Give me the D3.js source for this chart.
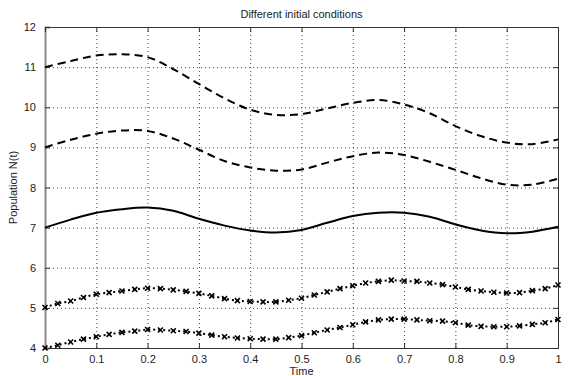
<!DOCTYPE html>
<html>
<head>
<meta charset="utf-8">
<script src="https://cdn.jsdelivr.net/npm/d3@7"></script>
<style>
body { margin: 0; background: #fff; }
text { font-family: "Liberation Sans", Arial, sans-serif; }
</style>
</head>
<body>
<div id="chart"></div>
<script>
// data
var tCoarse = d3.range(0, 21).map(function(i) { return i / 20; });
var tFine = d3.range(0, 41).map(function(i) { return i / 40; });

var n11 = [11.0, 11.15, 11.29, 11.32, 11.25, 10.95, 10.58, 10.22, 9.94, 9.81, 9.83,
           9.97, 10.11, 10.18, 10.07, 9.85, 9.53, 9.28, 9.12, 9.08, 9.2];
var n9 = [9.0, 9.19, 9.34, 9.42, 9.41, 9.22, 8.94, 8.66, 8.50, 8.42, 8.45,
          8.62, 8.78, 8.87, 8.81, 8.64, 8.44, 8.23, 8.07, 8.07, 8.22];
var n7 = [7.0, 7.2, 7.37, 7.46, 7.5, 7.42, 7.22, 7.05, 6.93, 6.88, 6.94,
          7.12, 7.29, 7.37, 7.37, 7.27, 7.08, 6.93, 6.86, 6.9, 7.02];
var n5 = [5.01, 5.11, 5.17, 5.26, 5.34, 5.38, 5.42, 5.46, 5.49, 5.48, 5.45, 5.41, 5.36,
          5.30, 5.23, 5.18, 5.16, 5.15, 5.15, 5.19, 5.24, 5.32, 5.40, 5.48, 5.55, 5.62,
          5.66, 5.69, 5.67, 5.66, 5.62, 5.58, 5.52, 5.46, 5.42, 5.39, 5.37, 5.38, 5.43,
          5.48, 5.57];
var n4 = [4.00, 4.07, 4.15, 4.22, 4.28, 4.34, 4.39, 4.42, 4.46, 4.45, 4.43, 4.41, 4.37,
          4.32, 4.28, 4.25, 4.23, 4.22, 4.22, 4.26, 4.31, 4.38, 4.45, 4.51, 4.58, 4.65,
          4.70, 4.72, 4.72, 4.70, 4.68, 4.67, 4.63, 4.57, 4.54, 4.53, 4.53, 4.55, 4.59,
          4.63, 4.71];

var xTicks = [0, 0.1, 0.2, 0.3, 0.4, 0.5, 0.6, 0.7, 0.8, 0.9, 1];
var yTicks = [4, 5, 6, 7, 8, 9, 10, 11, 12];

var margin = {top: 27, right: 13, bottom: 28, left: 45},
    width = 571 - margin.left - margin.right,
    height = 376 - margin.top - margin.bottom;

var svg = d3.select("#chart").append("svg")
    .attr("width", 571)
    .attr("height", 376);

var g = svg.append("g")
    .attr("transform", "translate(" + margin.left + "," + margin.top + ")");

var x = d3.scaleLinear().domain([0, 1]).range([0, width]);
var y = d3.scaleLinear().domain([4, 12]).range([height, 0]);

// grid
g.append("g").selectAll("line").data(xTicks.slice(1, -1)).enter().append("line")
    .attr("x1", function(d) { return x(d) + 0.5; })
    .attr("x2", function(d) { return x(d) + 0.5; })
    .attr("y1", 0).attr("y2", height)
    .attr("stroke", "#444").attr("stroke-dasharray", "1,3");
g.append("g").selectAll("line").data(yTicks.slice(1, -1)).enter().append("line")
    .attr("y1", function(d) { return y(d) + 0.5; })
    .attr("y2", function(d) { return y(d) + 0.5; })
    .attr("x1", 0).attr("x2", width)
    .attr("stroke", "#444").attr("stroke-dasharray", "1,3");

// axes, ticks pointing inward
var xAxis = g.append("g")
    .attr("transform", "translate(0," + height + ")")
    .call(d3.axisBottom(x).tickValues(xTicks).tickSize(-5).tickPadding(7)
      .tickFormat(function(d) { return d === 0 || d === 1 ? d : d3.format(".1f")(d); }));
var yAxis = g.append("g")
    .call(d3.axisLeft(y).tickValues(yTicks).tickSize(-5).tickPadding(9));
g.append("g")
    .call(d3.axisTop(x).tickValues(xTicks).tickSize(-5).tickFormat(""));
g.append("g")
    .attr("transform", "translate(" + width + ",0)")
    .call(d3.axisRight(y).tickValues(yTicks).tickSize(-5).tickFormat(""));

g.selectAll(".domain").attr("stroke", "#333");
g.selectAll(".tick line").attr("stroke", "#333");
g.selectAll(".tick text").attr("font-size", 11).attr("fill", "#222")
    .attr("font-family", "'Liberation Sans', Arial, sans-serif");
yAxis.select(".domain").attr("stroke", "#888").attr("stroke-width", 2);

var line = d3.line()
    .x(function(d) { return x(d[0]); })
    .y(function(d) { return y(d[1]); })
    .curve(d3.curveCatmullRom);

function pairs(ts, vs) { return ts.map(function(t, i) { return [t, vs[i]]; }); }

function drawCurve(ts, vs, dash, markers) {
  var pts = pairs(ts, vs);
  g.append("path")
      .datum(pts)
      .attr("fill", "none")
      .attr("stroke", "#000")
      .attr("stroke-width", 2)
      .attr("stroke-dasharray", dash)
      .attr("d", line);
  if (markers) {
    g.append("g").selectAll("path").data(pts).enter().append("path")
        .attr("transform", function(d) { return "translate(" + x(d[0]) + "," + y(d[1]) + ")"; })
        .attr("d", "M-2.5,-2.5L2.5,2.5M-2.5,2.5L2.5,-2.5")
        .attr("stroke", "#000")
        .attr("stroke-width", 1.6);
  }
}

drawCurve(tCoarse, n11, "8,5", false);
drawCurve(tCoarse, n9, "8,5", false);
drawCurve(tCoarse, n7, null, false);
drawCurve(tFine, n5, "2,3", true);
drawCurve(tFine, n4, "2,3", true);

svg.append("text")
    .attr("x", margin.left + width / 2)
    .attr("y", 18)
    .attr("text-anchor", "middle")
    .attr("font-size", 11)
    .attr("fill", "#222")
    .text("Different initial conditions");

svg.append("text")
    .attr("x", margin.left + width / 2)
    .attr("y", 375)
    .attr("text-anchor", "middle")
    .attr("font-size", 11)
    .attr("fill", "#222")
    .text("Time");

svg.append("text")
    .attr("transform", "translate(17," + (margin.top + height / 2) + ") rotate(-90)")
    .attr("text-anchor", "middle")
    .attr("font-size", 11)
    .attr("fill", "#222")
    .text("Population N(t)");
</script>
</body>
</html>
